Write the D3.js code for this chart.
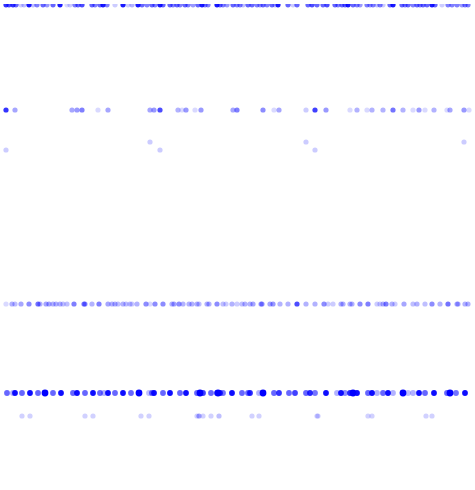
<!DOCTYPE html>
<html>
<head>
<meta charset="utf-8">
<script src="https://cdn.jsdelivr.net/npm/d3@7"></script>
<style>
html,body{margin:0;padding:0;background:#fff;}
svg{display:block;}
</style>
</head>
<body>
<script>
// Row levels (vertical value of each strip)
const levels = [4.8, 110, 142, 150, 304, 393, 416];

// Each row: [x value, opacity]
const row0 = [[6,.8],[9,.7],[13,.8],[16,.6],[21,.2],[24,.25],[29,.9],[33,.25],[37,.5],[43,.6],[47,.4],[53,.6],[60,.9],[67,.15],[70,.2],[75,.5],[78,.6],[82,.7],[92,.6],[95,.5],[100,.6],[103,.9],[107,.5],[115,.2],[123,.9],[128,.2],[132,.3],[138,.9],[142,.6],[147,.5],[152,.6],[155,.5],[160,.9],[163,.6],[170,.6],[173,.5],[177,.6],[180,.5],[185,.6],[188,.5],[193,.4],[198,.6],[202,.9],[205,.5],[208,.5],[217,.9],[220,.6],[223,.5],[227,.4],[233,.6],[237,.5],[240,.5],[243,.25],[248,.6],[252,.6],[257,.5],[260,.4],[263,.6],[267,.5],[272,.6],[275,.25],[278,.9],[288,.6],[293,.2],[297,.6],[308,.6],[312,.7],[317,.6],[323,.6],[327,.7],[335,.6],[338,.5],[342,.6],[345,.6],[348,.9],[353,.6],[357,.5],[360,.4],[367,.5],[370,.4],[373,.5],[377,.25],[380,.5],[383,.2],[390,.6],[393,.9],[402,.6],[405,.5],[408,.6],[413,.5],[417,.6],[420,.5],[423,.6],[427,.6],[432,.9],[435,.6],[442,.2],[448,.5],[452,.5],[457,.5],[462,.4],[465,.5],[468,.5]];
const row1 = [[6,.8],[15,.35],[72,.35],[77,.4],[82,.5],[98,.15],[108,.35],[150,.35],[154,.4],[160,.7],[178,.3],[182,.15],[186,.4],[195,.15],[201,.4],[233,.35],[237,.5],[263,.45],[274,.15],[279,.35],[306,.2],[315,.75],[326,.4],[350,.15],[357,.3],[367,.15],[372,.3],[383,.3],[393,.55],[403,.3],[413,.15],[419,.4],[425,.15],[434,.3],[447,.15],[450,.35],[464,.4],[469,.15]];
const row2 = [[150,.2],[306,.2],[464,.2]];
const row3 = [[6,.2],[160,.2],[315,.2]];
const row4 = [[6,.15],[12,.3],[15,.25],[21,.35],[29,.45],[38,.55],[40,.3],[46,.35],[49,.35],[53,.3],[56,.3],[60,.3],[63,.25],[67,.25],[74,.5],[84,.5],[85,.4],[92,.3],[99,.5],[108,.35],[112,.3],[115,.3],[118,.25],[123,.3],[126,.25],[130,.25],[132,.2],[137,.3],[146,.45],[150,.15],[155,.45],[163,.45],[172,.3],[174,.35],[179,.45],[183,.3],[189,.3],[192,.3],[197,.3],[199,.25],[207,.3],[209,.3],[217,.45],[223,.25],[226,.2],[232,.3],[237,.2],[242,.25],[245,.3],[250,.3],[253,.35],[261,.35],[262,.4],[270,.35],[273,.4],[280,.3],[288,.3],[297,.7],[306,.3],[315,.3],[324,.45],[328,.2],[333,.2],[341,.3],[343,.3],[350,.3],[352,.3],[360,.45],[368,.5],[377,.2],[380,.2],[383,.3],[386,.5],[392,.3],[395,.2],[404,.35],[413,.25],[417,.3],[425,.25],[432,.45],[440,.3],[448,.55],[457,.3],[458,.3],[465,.3],[468,.3]];
const row5 = [[7,.6],[13,.3],[15,.95],[22,.6],[30,.95],[38,.6],[45,1],[53,.6],[61,.95],[73,.6],[77,.95],[85,.6],[93,.95],[100,.6],[104,.3],[108,.95],[115,.6],[123,.95],[131,.6],[139,1],[149,.25],[152,.6],[154,.95],[163,.6],[170,.95],[180,.6],[186,.95],[197,.6],[200,1],[203,.75],[211,.6],[217,.75],[218,1],[220,.85],[223,.55],[232,.95],[242,.6],[248,.6],[250,.85],[259,.3],[263,1],[274,.6],[279,.8],[289,.6],[295,.75],[306,.6],[310,.85],[315,.55],[326,.95],[337,.3],[341,.95],[345,.45],[350,.85],[353,1],[357,.95],[368,.6],[372,.95],[377,.3],[383,.6],[388,.95],[393,.3],[403,1],[408,.25],[413,.3],[419,.95],[425,.6],[434,.95],[447,.6],[450,1],[456,.55],[465,.95]];
const row6 = [[22,.18],[30,.18],[85,.18],[93,.18],[141,.18],[149,.18],[197,.18],[199,.35],[203,.18],[211,.18],[219,.25],[252,.18],[259,.18],[317,.18],[318,.18],[368,.18],[372,.18],[426,.18],[432,.18]];

const rows = [row0, row1, row2, row3, row4, row5, row6];

const W = 475, H = 490;
const x = d3.scaleLinear().domain([0, 475]).range([0, W]);
const y = d3.scaleLinear().domain([0, 490]).range([0, H]);

const svg = d3.select("body").append("svg").attr("width", W).attr("height", H);

svg.append("defs").append("clipPath").attr("id", "plotclip")
  .append("rect").attr("x", 0).attr("y", 4).attr("width", W).attr("height", H - 4);

const pts = rows.flatMap((r, i) => r.map(([xv, a]) => ({x: xv, y: levels[i], a, row: i})));

svg.append("g").attr("clip-path", "url(#plotclip)")
  .selectAll("circle").data(pts).join("circle")
  .attr("cx", d => x(d.x))
  .attr("cy", d => y(d.y))
  .attr("r", d => d.a >= 0.99 ? 3.4 : (d.row === 5 ? 2.9 : 2.6))
  .attr("fill", "#0000ff")
  .attr("fill-opacity", d => d.a);
</script>
</body>
</html>
